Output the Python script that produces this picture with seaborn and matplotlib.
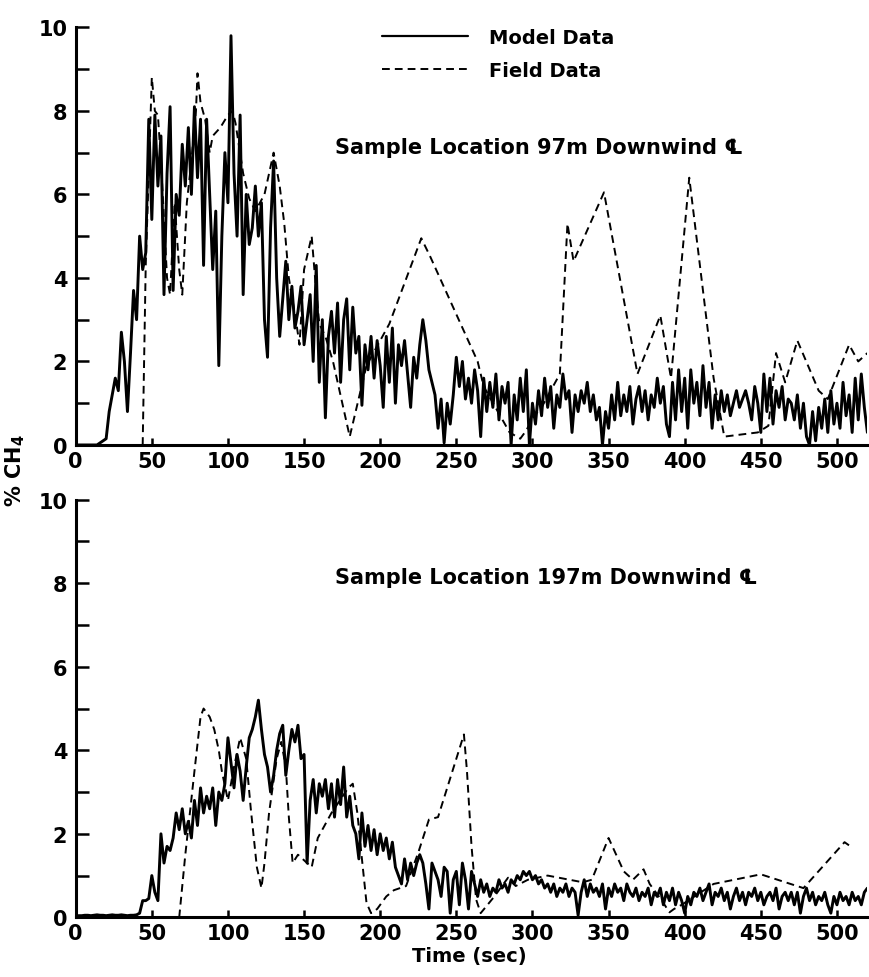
import numpy as np
import matplotlib
matplotlib.use("Agg")
import matplotlib.pyplot as plt
import seaborn as sns

# model data, sampled every 2 s from t = 0
model_step = 2
model_97 = [0, 0, 0, 0, 0, 0, 0, 0, 0.05, 0.1,
            0.15, 0.8, 1.2, 1.6, 1.3, 2.7, 2.0, 0.8, 2.2, 3.7,
            3.0, 5.0, 4.2, 4.6, 7.8, 5.4, 7.9, 6.2, 7.4, 3.6,
            6.5, 8.1, 3.7, 6.0, 5.5, 7.2, 6.2, 7.6, 6.0, 8.1,
            6.4, 7.8, 4.3, 7.8, 6.0, 4.2, 5.6, 1.9, 5.0, 7.0,
            5.8, 9.8, 6.5, 5.0, 7.9, 3.6, 6.0, 4.8, 5.2, 6.2,
            5.0, 5.8, 3.0, 2.1, 5.2, 6.8, 4.0, 2.6, 3.5, 4.4,
            3.0, 3.8, 2.8, 3.2, 3.8, 2.4, 3.0, 3.6, 2.0, 4.3,
            1.5, 3.0, 0.65, 2.6, 3.2, 2.2, 3.4, 1.5, 3.0, 3.5,
            1.8, 3.3, 2.2, 2.6, 0.95, 2.4, 1.8, 2.6, 1.6, 2.5,
            1.9, 0.9, 2.6, 1.5, 2.8, 1.0, 2.4, 1.9, 2.5, 1.7,
            0.9, 2.1, 1.6, 2.4, 3.0, 2.5, 1.8, 1.5, 1.2, 0.4,
            1.1, 0.05, 1.0, 0.5, 1.2, 2.1, 1.4, 2.0, 1.1, 1.6,
            1.0, 1.8, 1.3, 0.2, 1.6, 0.8, 1.5, 0.9, 1.7, 0.6,
            1.4, 1.0, 1.5, 0.0, 1.2, 0.6, 1.6, 0.8, 1.8, 0.0,
            1.0, 0.5, 1.3, 0.7, 1.6, 0.9, 1.4, 0.4, 1.2, 0.9,
            1.7, 1.1, 1.3, 0.3, 1.2, 0.8, 1.3, 1.0, 1.5, 0.8,
            1.2, 0.6, 0.9, 0.0, 0.8, 0.4, 1.2, 0.6, 1.5, 0.7,
            1.2, 0.8, 1.4, 0.5, 1.1, 1.4, 0.8, 1.3, 0.6, 1.2,
            0.9, 1.6, 1.0, 1.4, 0.5, 0.2, 1.5, 0.6, 1.8, 0.8,
            1.6, 0.4, 1.8, 1.0, 1.5, 0.7, 1.9, 0.9, 1.5, 0.4,
            1.2, 0.6, 1.3, 0.8, 1.2, 0.7, 1.0, 1.3, 0.9, 1.1,
            1.3, 1.0, 0.6, 1.4, 1.0, 0.3, 1.7, 0.8, 1.6, 0.5,
            1.3, 0.9, 1.4, 0.6, 1.1, 1.0, 0.6, 1.2, 0.4, 1.0,
            0.2, 0.0, 0.8, 0.1, 0.9, 0.4, 1.1, 0.3, 1.3, 0.5,
            1.0, 0.4, 1.5, 0.7, 1.2, 0.3, 1.6, 0.6, 1.7, 0.9,
            0.3]

model_197 = [0.03, 0.04, 0.04, 0.05, 0.05, 0.04, 0.05, 0.06, 0.05, 0.05,
             0.04, 0.05, 0.06, 0.05, 0.05, 0.06, 0.05, 0.04, 0.05, 0.05,
             0.06, 0.1, 0.4, 0.4, 0.45, 1.0, 0.6, 0.4, 2.0, 1.3,
             1.7, 1.6, 1.9, 2.5, 2.1, 2.6, 2.0, 2.3, 1.9, 2.8,
             2.2, 3.1, 2.5, 2.9, 2.6, 3.1, 2.2, 3.0, 2.8, 3.2,
             4.3, 3.7, 3.1, 3.9, 3.5, 2.8, 3.6, 4.3, 4.5, 4.8,
             5.2, 4.5, 3.9, 3.6, 3.0, 3.4, 4.0, 4.4, 4.6, 3.4,
             4.0, 4.5, 4.2, 4.6, 3.8, 3.9, 1.3, 2.8, 3.3, 2.5,
             3.2, 2.9, 3.3, 2.6, 3.2, 2.4, 3.3, 2.7, 3.6, 2.4,
             2.9, 2.2, 2.0, 1.4, 2.5, 1.7, 2.2, 1.6, 2.1, 1.5,
             2.0, 1.6, 1.9, 1.4, 1.8, 1.2, 1.0, 0.8, 1.4, 0.9,
             1.3, 1.0, 1.3, 1.5, 1.3, 0.8, 0.2, 1.3, 1.1, 0.9,
             0.5, 1.2, 1.1, 0.1, 0.9, 1.1, 0.3, 1.3, 0.9, 0.2,
             1.1, 0.8, 0.5, 0.9, 0.6, 0.8, 0.5, 0.7, 0.6, 0.9,
             0.7, 0.8, 0.6, 0.9, 0.8, 1.0, 0.9, 1.1, 1.0, 1.1,
             0.9, 1.0, 0.8, 0.9, 0.7, 0.8, 0.6, 0.8, 0.5, 0.7,
             0.6, 0.8, 0.5, 0.7, 0.6, 0.05, 0.6, 0.9, 0.5, 0.8,
             0.6, 0.7, 0.5, 0.8, 0.2, 0.7, 0.5, 0.8, 0.6, 0.7,
             0.4, 0.8, 0.6, 0.5, 0.7, 0.4, 0.6, 0.5, 0.7, 0.3,
             0.6, 0.5, 0.7, 0.3, 0.6, 0.4, 0.7, 0.3, 0.6, 0.4,
             0.1, 0.5, 0.3, 0.6, 0.5, 0.7, 0.4, 0.6, 0.8, 0.3,
             0.6, 0.5, 0.7, 0.4, 0.6, 0.2, 0.5, 0.7, 0.4, 0.6,
             0.3, 0.6, 0.5, 0.7, 0.4, 0.6, 0.3, 0.5, 0.6, 0.4,
             0.7, 0.2, 0.5, 0.6, 0.4, 0.6, 0.3, 0.6, 0.1, 0.5,
             0.7, 0.4, 0.6, 0.3, 0.5, 0.4, 0.6, 0.3, 0.1, 0.5,
             0.3, 0.6, 0.4, 0.5, 0.3, 0.6, 0.4, 0.5, 0.3, 0.6,
             0.7]

# field data (time, %CH4)
field_97_t = [44, 46, 50, 52, 54, 56, 60, 62, 65, 68, 70, 73, 76, 79, 80,
              82, 85, 88, 90, 95, 100, 103, 105, 110, 114, 118, 124, 130,
              134, 137, 140, 145, 147, 150, 155, 157, 160, 164, 169, 180,
              191, 206, 227, 233, 264, 268, 285, 292, 296, 301, 306, 318,
              323, 327, 347, 369, 384, 391, 403, 419, 426, 448, 455, 460,
              466, 474, 488, 494, 508, 514, 520]
field_97 = [0.0, 4.3, 8.8, 8.0, 7.9, 6.8, 4.0, 3.6, 5.8, 4.2, 3.6, 5.8, 6.8,
            8.0, 8.9, 8.2, 7.8, 7.0, 7.4, 7.6, 7.9, 8.0, 7.7, 6.5, 5.9, 5.6,
            6.0, 7.0, 6.2, 5.3, 4.0, 2.9, 2.4, 4.2, 5.0, 4.1, 2.9, 2.6, 2.0,
            0.2, 1.9, 2.9, 4.95, 4.5, 2.0, 1.4, 0.3, 0.15, 0.35, 0.7, 0.9,
            1.7, 5.3, 4.4, 6.05, 1.7, 3.1, 1.6, 6.4, 1.6, 0.2, 0.3, 0.46,
            2.2, 1.5, 2.5, 1.3, 1.1, 2.4, 2.0, 2.2]

field_197_t = [68, 72, 78, 82, 84, 88, 91, 94, 96, 100, 104, 108, 112, 115,
               119, 122, 124, 127, 132, 135, 138, 140, 142.5, 146, 149, 152,
               155, 159, 168, 179, 182, 185, 188, 191, 194, 198, 204, 209,
               217, 225, 232, 238, 255, 257, 260, 263, 266, 275, 284, 289,
               297, 310, 333, 339, 350, 360, 366, 373, 377, 385, 390, 393,
               398, 419, 450, 478, 505, 510]
field_197 = [0.0, 1.5, 3.5, 4.8, 5.0, 4.8, 4.5, 4.0, 3.5, 2.8, 3.6, 4.3, 3.8,
             2.6, 1.2, 0.7, 1.3, 2.5, 3.8, 4.2, 3.6, 2.4, 1.3, 1.5, 1.4, 1.3,
             1.2, 1.9, 2.5, 3.1, 3.2, 2.5, 1.4, 0.35, 0.1, 0.2, 0.5, 0.65,
             0.75, 1.55, 2.34, 2.4, 4.38, 3.5, 1.7, 0.43, 0.1, 0.5, 0.95,
             0.75, 0.9, 1.0, 0.84, 0.9, 1.9, 1.1, 0.9, 1.15, 0.8, 0.4, 0.12,
             0.2, 0.3, 0.8, 1.03, 0.7, 1.8, 1.67]

x_ticks = [0, 50, 100, 150, 200, 250, 300, 350, 400, 450, 500]
y_ticks = [0, 2, 4, 6, 8, 10]

sns.set_style("ticks")
plt.rcParams['font.family'] = ['DejaVu Sans']
plt.rcParams['font.weight'] = 'bold'
for key in ['text.color', 'axes.labelcolor', 'xtick.color', 'ytick.color',
            'axes.edgecolor']:
    plt.rcParams[key] = 'black'

fig = plt.figure(figsize=(8.7, 9.78), dpi=100)
ax1 = fig.add_axes([0.087, 0.544, 0.910, 0.427])
ax2 = fig.add_axes([0.087, 0.061, 0.910, 0.427])

panels = [(ax1, model_97, field_97_t, field_97, "Sample Location 97m Downwind \u2104", 0.713),
          (ax2, model_197, field_197_t, field_197, "Sample Location 197m Downwind \u2104", 0.816)]

for ax, model, ft, fv, title, ty in panels:
    t = np.arange(len(model)) * model_step
    sns.lineplot(x=t, y=model, ax=ax, color='black', lw=2.1, estimator=None,
                 sort=False, label='Model Data')
    sns.lineplot(x=ft, y=fv, ax=ax, color='black', lw=1.4, estimator=None,
                 sort=False, linestyle=(0, (4, 2.6)), label='Field Data')
    ax.set_xlim(0, 520)
    ax.set_ylim(0, 10)
    ax.set_xticks(x_ticks)
    ax.set_yticks(y_ticks)
    ax.set_yticks(range(1, 10, 2), minor=True)
    ax.tick_params(axis='y', which='both', direction='in', length=9, width=1.8,
                   labelsize=15, pad=6)
    ax.tick_params(axis='x', which='both', direction='in', length=5, width=1.8,
                   labelsize=15, pad=4)
    for s in ['top', 'right']:
        ax.spines[s].set_visible(False)
    for s in ['left', 'bottom']:
        ax.spines[s].set_linewidth(2.2)
    ax.set_xlabel('')
    ax.set_ylabel('')
    ax.text(0.327, ty, title, transform=ax.transAxes, fontsize=15,
            fontweight='bold', va='center', ha='left')
    ax.get_legend().remove()

leg = ax1.legend(loc='upper left', bbox_to_anchor=(0.365, 1.04), frameon=False,
                 fontsize=14, handlelength=4.4, labelspacing=0.7,
                 handletextpad=1.1)
leg.get_lines()[0].set_linewidth(1.6)

fig.text(0.018, 0.519, "% CH$_4$", rotation=90, fontsize=15, fontweight='bold',
         va='center', ha='center')
fig.text(0.54, 0.012, "Time (sec)", fontsize=14, fontweight='bold',
         ha='center', va='bottom')

fig.savefig("out.png", dpi=100)
